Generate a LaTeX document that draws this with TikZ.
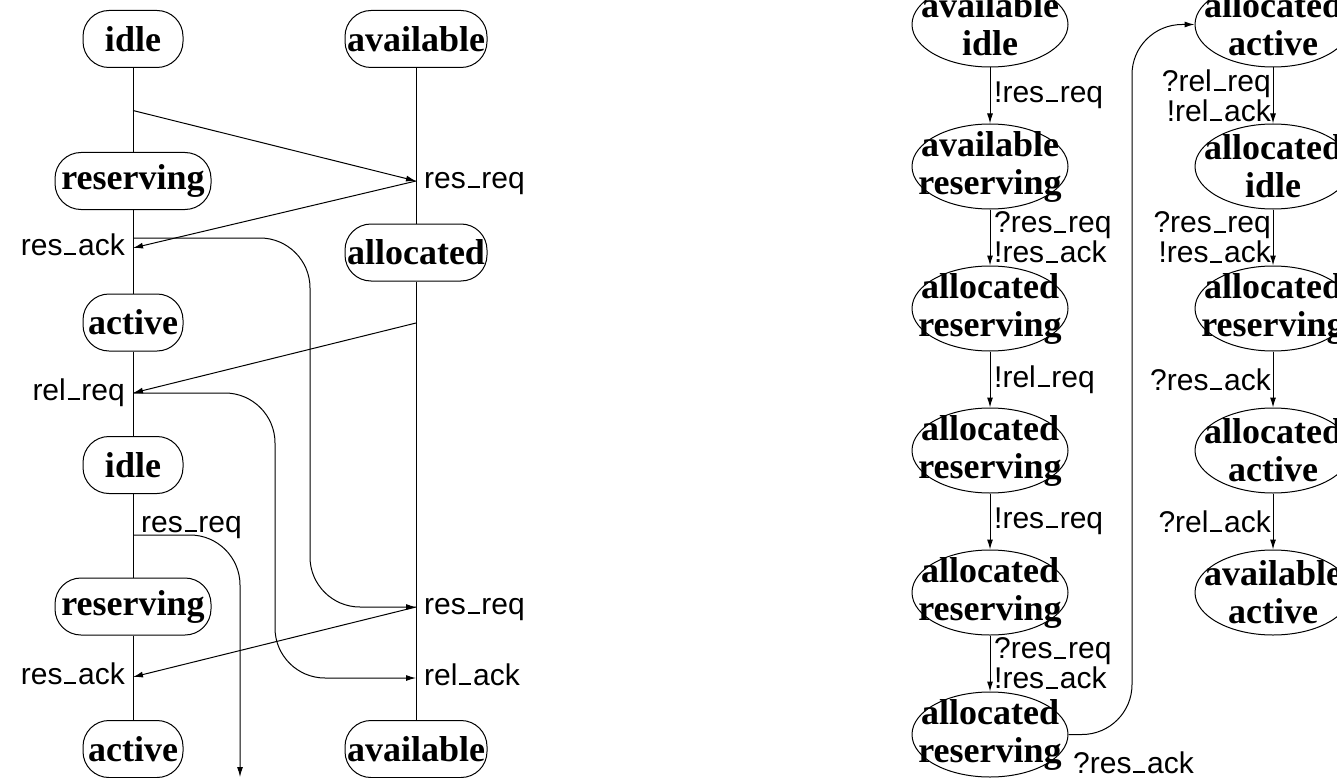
\documentclass[tikz,border=0pt]{standalone}
\usepackage{fontspec}
\setmainfont{Liberation Serif}
\setsansfont{Liberation Sans}
\usetikzlibrary{arrows.meta,shapes.geometric}
\newcommand\usc{\kern0.06em\rule[0.01em]{0.4em}{0.065em}\kern0.06em}
\begin{document}
\begin{tikzpicture}[x=1pt,y=-1pt,
  box/.style={draw, line width=1pt, rounded corners=26pt, minimum height=57pt, inner xsep=1pt, inner ysep=0pt, font=\fontsize{36}{38}\selectfont\bfseries},
  ell/.style={draw, line width=1pt, ellipse, minimum width=156pt, minimum height=85pt, inner sep=0pt},
  etext/.style={align=center, inner sep=0pt, font=\fontsize{36}{38}\selectfont\bfseries},
  lab/.style={inner sep=0pt, font=\fontsize{30}{30}\selectfont\sffamily},
  life/.style={line width=1pt},
  msg/.style={line width=1pt, -{Latex[length=10pt,width=6pt]}},
  elbow/.style={msg, rounded corners=50pt}]
\useasboundingbox (0,0) rectangle (1337,778);
\clip (0,0) rectangle (1337,778);

% ---------- left: message sequence ----------
\node[box, minimum width=100pt] (i1)  at (133,39)    {idle};
\node[box, minimum width=142pt] (av1) at (416,39)    {available};
\node[box, minimum width=156pt] (r1)  at (133,181)   {reserving};
\node[box, minimum width=142pt] (al)  at (416,252.5) {allocated};
\node[box, minimum width=100pt] (ac1) at (133,322.5) {active};
\node[box, minimum width=100pt] (i2)  at (133,465)   {idle};
\node[box, minimum width=156pt] (r2)  at (133,606.5) {reserving};
\node[box, minimum width=100pt] (ac2) at (133,749)   {active};
\node[box, minimum width=142pt] (av2) at (416,749)   {available};

\draw[life] (i1) -- (r1);
\draw[life] (r1) -- (ac1);
\draw[life] (ac1) -- (i2);
\draw[life] (i2) -- (r2);
\draw[life] (r2) -- (ac2);
\draw[life] (av1) -- (al);
\draw[life] (al) -- (av2);

\coordinate (p1) at (133,110.5);
\coordinate (q1) at (416,181);
\coordinate (p2c) at (133,238);
\coordinate (p2) at (133,248);
\coordinate (q3) at (416,323);
\coordinate (p3) at (133,393);
\coordinate (p4) at (133,535);
\coordinate (q2) at (416,607);
\coordinate (p5) at (133,677);
\coordinate (q4) at (416,678);
\coordinate (e6) at (240,777);

\draw[msg] (p1) -- (q1);
\draw[msg] (q1) -- (p2);
\draw[msg] (q3) -- (p3);
\draw[msg] (q2) -- (p5);
\draw[elbow] (p2c) -- (310,238) -- (310,607) -- (q2);
\draw[elbow] (p3) -- (275,393) -- (275,678) -- (q4);
\draw[elbow] (p4) -- (240,535) -- (e6);

\node[lab, anchor=base west] (l1) at (424,188.5) {res\usc req};
\node[lab, anchor=base east] (l2) at (125,255.5) {res\usc ack};
\node[lab, anchor=base east] (l3) at (125,400.5) {rel\usc req};
\node[lab, anchor=base west] (l4) at (141,532)   {res\usc req};
\node[lab, anchor=base west] (l5) at (424,614.5) {res\usc req};
\node[lab, anchor=base east] (l6) at (125,684.5) {res\usc ack};
\node[lab, anchor=base west] (l7) at (424,685.5) {rel\usc ack};

% ---------- right: product state graph ----------
\node[ell] (a1) at (990,24.5)  {};
\node[ell] (a2) at (990,166.5) {};
\node[ell] (a3) at (990,308.5) {};
\node[ell] (a4) at (990,450.5) {};
\node[ell] (a5) at (990,592.5) {};
\node[ell] (a6) at (990,734.5) {};
\node[ell] (b1) at (1273,24.5)  {};
\node[ell] (b2) at (1273,166.5) {};
\node[ell] (b3) at (1273,308.5) {};
\node[ell] (b4) at (1273,450.5) {};
\node[ell] (b5) at (1273,592.5) {};

\node[etext] (a1t) at (a1) {available\\idle};
\node[etext] (a2t) at (a2) {available\\reserving};
\node[etext] (a3t) at (a3) {allocated\\reserving};
\node[etext] (a4t) at (a4) {allocated\\reserving};
\node[etext] (a5t) at (a5) {allocated\\reserving};
\node[etext] (a6t) at (a6) {allocated\\reserving};
\node[etext] (b1t) at (b1) {allocated\\active};
\node[etext] (b2t) at (b2) {allocated\\idle};
\node[etext] (b3t) at (b3) {allocated\\reserving};
\node[etext] (b4t) at (b4) {allocated\\active};
\node[etext] (b5t) at (b5) {available\\active};

\draw[msg] (a1) -- (a2);
\draw[msg] (a2) -- (a3);
\draw[msg] (a3) -- (a4);
\draw[msg] (a4) -- (a5);
\draw[msg] (a5) -- (a6);
\draw[msg] (b1) -- (b2);
\draw[msg] (b2) -- (b3);
\draw[msg] (b3) -- (b4);
\draw[msg] (b4) -- (b5);
\draw[elbow] (a6.east) -- (1132,734.5) -- (1132,24.5) -- (b1.west);

\node[lab, anchor=west, align=left] (m1) at (994,95)    {!res\usc req};
\node[lab, anchor=west, align=left] (m2) at (994,237.5) {?res\usc req\\!res\usc ack};
\node[lab, anchor=west, align=left] (m3) at (994,379.5) {!rel\usc req};
\node[lab, anchor=west, align=left] (m4) at (994,521.5) {!res\usc req};
\node[lab, anchor=west, align=left] (m5) at (994,663.5) {?res\usc req\\!res\usc ack};
\node[lab, anchor=east, align=right] (n1) at (1271,95.5)  {?rel\usc req\\!rel\usc ack};
\node[lab, anchor=east, align=right] (n2) at (1271,237.5) {?res\usc req\\!res\usc ack};
\node[lab, anchor=east, align=right] (n3) at (1271,379.5) {?res\usc ack};
\node[lab, anchor=east, align=right] (n4) at (1271,521.5) {?rel\usc ack};
\node[lab, anchor=base west] (n5) at (1073,773) {?res\usc ack};
\end{tikzpicture}
\end{document}
